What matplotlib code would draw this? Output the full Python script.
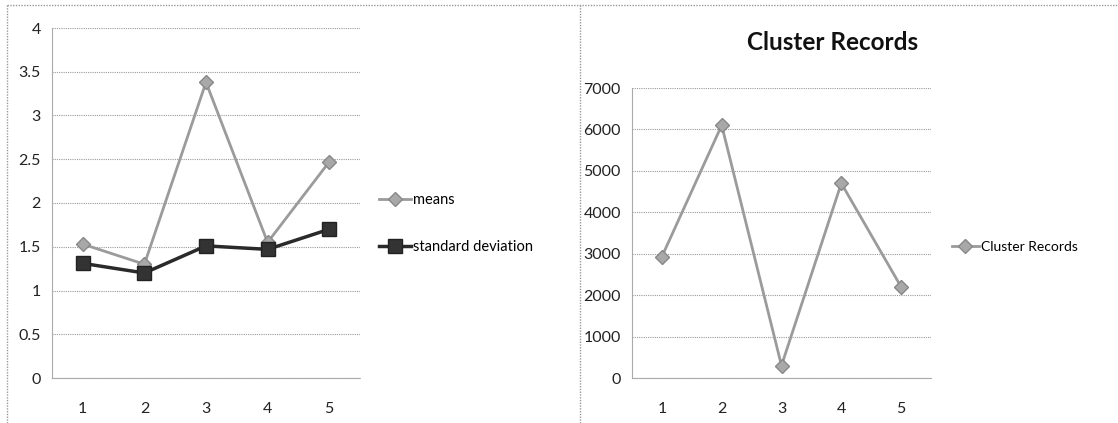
import matplotlib
matplotlib.use("Agg")
import matplotlib.pyplot as plt
from matplotlib.lines import Line2D

categories = [1, 2, 3, 4, 5]
means = [1.53, 1.30, 3.38, 1.55, 2.47]
std_dev = [1.31, 1.20, 1.51, 1.47, 1.70]
cluster_records = [2930, 6100, 300, 4700, 2200]

W, H = 1118, 423
plt.rcParams['font.family'] = ['Lato', 'DejaVu Sans']
fig = plt.figure(figsize=(W / 100, H / 100), dpi=100)

def px_axes(l, t, r, b):
    return fig.add_axes([l / W, 1 - b / H, (r - l) / W, (b - t) / H])

grid_kw = dict(color='#9a9a9a', linestyle=(0, (1, 1)), linewidth=0.8)

def style(ax, ylim, yticks):
    ax.set_xlim(0.5, 5.5)
    ax.set_ylim(*ylim)
    ax.set_yticks(yticks)
    ax.set_xticks(categories)
    for s in ['top', 'right']:
        ax.spines[s].set_visible(False)
    for s in ['left', 'bottom']:
        ax.spines[s].set_color('#aaaaaa')
        ax.spines[s].set_linestyle((0, (1, 1)))
        ax.spines[s].set_linewidth(0.8)
    ax.yaxis.grid(True, **grid_kw)
    ax.set_axisbelow(True)
    ax.tick_params(axis='both', length=0, labelsize=11.5, colors='#222222')
    ax.tick_params(axis='x', pad=17)
    ax.tick_params(axis='y', pad=8)

# Left chart
ax1 = px_axes(52, 28, 360, 378)
ax1.plot(categories, means, color='#9b9b9b', marker='D', markersize=7,
         markerfacecolor='#a8a8a8', markeredgecolor='#888888', linewidth=2, label='means')
ax1.plot(categories, std_dev, color='#2a2a2a', marker='s', markersize=10,
         markerfacecolor='#333333', markeredgecolor='#222222', linewidth=2.5, label='standard deviation')
style(ax1, (0, 4), [0, 0.5, 1, 1.5, 2, 2.5, 3, 3.5, 4])
ax1.set_yticklabels(['0', '0.5', '1', '1.5', '2', '2.5', '3', '3.5', '4'])
ax1.legend(loc='center left', bbox_to_anchor=(1.02, 0.441), frameon=False,
           fontsize=10.5, handlelength=2.2, handletextpad=0.1, labelspacing=2.24)

# Right chart
ax2 = px_axes(632, 88, 931, 378)
ax2.plot(categories, cluster_records, color='#9b9b9b', marker='D', markersize=7,
         markerfacecolor='#a8a8a8', markeredgecolor='#888888', linewidth=2, label='Cluster Records')
style(ax2, (0, 7000), list(range(0, 7001, 1000)))
ax2.legend(loc='center left', bbox_to_anchor=(1.027, 0.452), frameon=False,
           fontsize=10, handlelength=2.0, handletextpad=0.1)
fig.text(833 / W, 1 - 43 / H, 'Cluster Records', ha='center', va='center',
         fontsize=17.5, fontweight='bold', color='#111111')

# Frame borders
border_kw = dict(color='#999999', linestyle=(0, (1, 1)), linewidth=1, transform=fig.transFigure)
fig.add_artist(Line2D([7 / W, 1], [1 - 5 / H, 1 - 5 / H], **border_kw))
fig.add_artist(Line2D([7 / W, 7 / W], [0, 1 - 5 / H], **border_kw))
fig.add_artist(Line2D([580 / W, 580 / W], [0, 1 - 5 / H], **border_kw))

fig.savefig('out.png', dpi=100, facecolor='white')
